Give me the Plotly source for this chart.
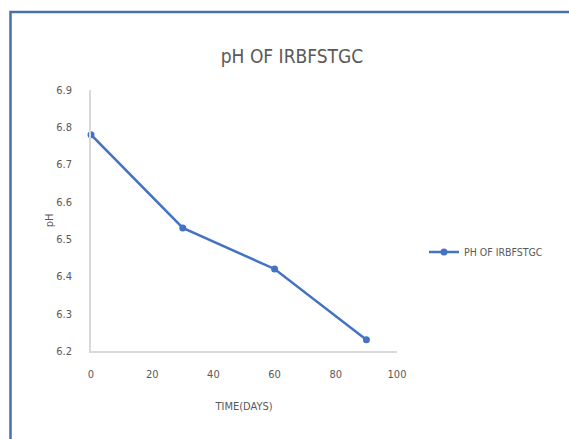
import plotly.graph_objects as go

days = [0, 30, 60, 90]
ph_values = [6.78, 6.53, 6.42, 6.23]
series_name = "PH OF IRBFSTGC"
x_ticks = [0, 20, 40, 60, 80, 100]
y_ticks = [6.2, 6.3, 6.4, 6.5, 6.6, 6.7, 6.8, 6.9]

FONT = "Liberation Sans Narrow, DejaVu Sans Condensed, sans-serif"
TEXT = "#595959"
AXIS = "#d9d9d9"
BLUE = "#4472C4"

W, H = 569, 439
ML, MR, MT, MB = 91, 172, 90, 88
pw, ph = W - ML - MR, H - MT - MB


def px(x):
    return (x - ML) / pw


def py(y):
    return (H - MB - y) / ph


fig = go.Figure()
fig.add_trace(go.Scatter(
    x=days, y=ph_values, name=series_name, mode="lines+markers",
    line=dict(color=BLUE, width=2.5),
    marker=dict(color=BLUE, size=7),
    cliponaxis=False,
))

fig.update_layout(
    width=W, height=H,
    margin=dict(l=ML, r=MR, t=MT, b=MB),
    paper_bgcolor="white", plot_bgcolor="white",
    font=dict(family=FONT, color=TEXT, size=11),
    title=dict(text="pH OF IRBFSTGC", xref="container", x=292 / W,
               xanchor="center", yref="container",
               y=1 - 56 / H, yanchor="middle",
               font=dict(size=19, color=TEXT, family=FONT)),
    showlegend=True,
    legend=dict(x=px(424), y=py(252), xanchor="left", yanchor="middle",
                font=dict(size=10.5, color=TEXT, family=FONT),
                bgcolor="rgba(0,0,0,0)", itemwidth=30),
    xaxis=dict(range=[0, 100], tickvals=x_ticks, showgrid=False,
               zeroline=False, showline=True, linecolor=AXIS, linewidth=1.5,
               ticks="", ticklabelstandoff=12,
               tickfont=dict(size=11, color=TEXT),
               title=dict(text="TIME(DAYS)", standoff=22,
                          font=dict(size=11, color=TEXT))),
    yaxis=dict(range=[6.2, 6.9], tickvals=y_ticks, tickformat=".1f",
               showgrid=False, zeroline=False, showline=True,
               linecolor=AXIS, linewidth=1.5, ticks="",
               ticklabelstandoff=15,
               tickfont=dict(size=11, color=TEXT),
               title=dict(text="pH", standoff=0,
                          font=dict(size=11, color=TEXT))),
    shapes=[dict(type="rect", xref="paper", yref="paper",
                 x0=px(10.5), x1=px(600), y0=py(470), y1=py(12),
                 line=dict(color="#4a6fb0", width=2.5),
                 fillcolor="rgba(0,0,0,0)", layer="below")],
)

fig.write_html("out.html")
